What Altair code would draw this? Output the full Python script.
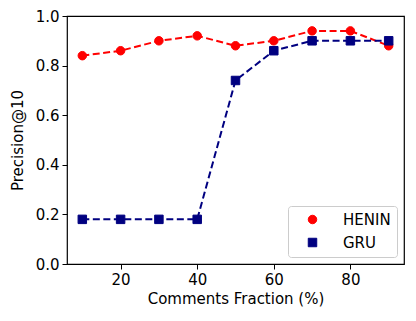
import altair as alt
import pandas as pd

fractions = [10, 20, 30, 40, 50, 60, 70, 80, 90]
henin = [0.84, 0.86, 0.90, 0.92, 0.88, 0.90, 0.94, 0.94, 0.88]
gru = [0.18, 0.18, 0.18, 0.18, 0.74, 0.86, 0.90, 0.90, 0.90]
series_names = ["HENIN", "GRU"]
series_colors = ["#ff0000", "#000080"]
marker_shapes = ["circle", "square"]
x_ticks = [20, 40, 60, 80]
y_ticks = [0.0, 0.2, 0.4, 0.6, 0.8, 1.0]

rows = []
for i, (name, vals) in enumerate(zip(series_names, [henin, gru])):
    for f, v in zip(fractions, vals):
        rows.append({"frac": f, "prec": v, "series": name, "order": i})
df = pd.DataFrame(rows)

FONT = "DejaVu Sans"
FS = 15

x = alt.X("frac:Q", title="Comments Fraction (%)",
          scale=alt.Scale(domain=[6, 94], nice=False, zero=False),
          axis=alt.Axis(values=x_ticks, format="d", grid=False))
y = alt.Y("prec:Q", title="Precision@10",
          scale=alt.Scale(domain=[0, 1], nice=False),
          axis=alt.Axis(values=y_ticks, format=".1f", grid=False, titlePadding=10))

line = alt.Chart(df).mark_line(strokeWidth=2, strokeDash=[7, 3.5]).encode(
    x=x, y=y,
    color=alt.Color("series:N", scale=alt.Scale(domain=series_names, range=series_colors), legend=None),
    detail="series:N",
)

points = alt.Chart(df).mark_point(filled=True, opacity=1, size=72, strokeWidth=1).encode(
    x=x, y=y,
    fill=alt.Fill("series:N", scale=alt.Scale(domain=series_names, range=series_colors), title=None),
    stroke=alt.Stroke("series:N", scale=alt.Scale(domain=series_names, range=series_colors), title=None),
    shape=alt.Shape("series:N", scale=alt.Scale(domain=series_names, range=marker_shapes),
                    title=None,
                    legend=alt.Legend(orient="bottom-right", title=None, symbolSize=72,
                                      symbolStrokeWidth=1, offset=7, padding=6,
                                      strokeColor="#cccccc", fillColor="white", cornerRadius=3,
                                      labelFontSize=FS, labelFont=FONT, labelColor="black",
                                      rowPadding=7, symbolOffset=11, labelOffset=23)),
    order="order:Q",
)

chart = alt.layer(line, points).resolve_scale(color="independent").properties(
    width=337, height=248,
    autosize=alt.AutoSizeParams(type="none"),
    padding={"left": 59, "top": 8, "right": 4, "bottom": 48},
).configure_view(stroke="black", strokeWidth=1.2).configure_axis(
    labelFont=FONT, titleFont=FONT, labelFontSize=FS, titleFontSize=FS,
    labelColor="black", titleColor="black", tickColor="black", domain=False,
    tickSize=5, titleFontWeight="normal", labelPadding=3,
)

chart.save("out.html", embed_options={"renderer": "svg", "actions": False})
